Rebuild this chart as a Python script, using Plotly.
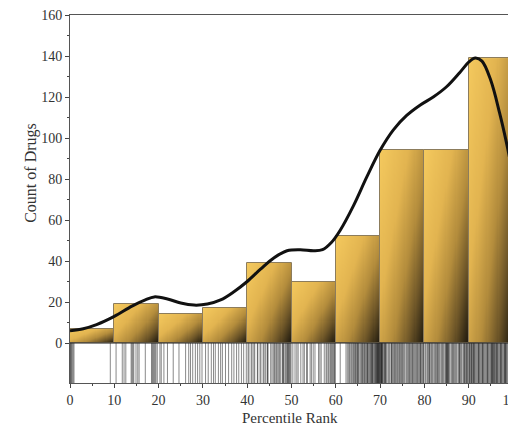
import numpy as np
import plotly.graph_objects as go

# ---------------- data ----------------
bin_left = [0, 10, 20, 30, 40, 50, 60, 70, 80, 90]
bin_width = 10
counts = [7, 19, 14, 17, 39, 30, 52, 94, 94, 139]

curve_x = [0, 3, 6, 10, 14, 17, 19, 22, 25, 28, 31, 34, 37, 40, 43, 46, 49, 52, 55, 57,
           59, 61, 64, 67, 70, 73, 76, 79, 82, 85, 88, 90, 91.5, 93, 95, 97, 98.5, 100]
curve_y = [6, 7, 9, 13, 18, 21, 22.5, 21.5, 19.5, 18.5, 19, 21, 25, 30, 36, 41.5, 45, 45.5, 45, 45.5,
           49, 55, 67, 81, 94, 104, 111, 116, 120, 125, 132, 137, 139, 137.5, 128, 112, 98, 82]

rug_x = [
    0.1, 0.2, 0.3, 0.5, 0.7, 0.9, 9.1,
    10.4, 11.8, 12.2, 12.6, 13.8, 14.0, 14.2, 14.4, 14.9, 15.3, 15.6, 17.0, 18.4, 18.6, 18.8, 19.0, 19.2, 19.4, 19.7,
    20.3, 20.6, 21.2, 22.0, 23.3, 24.6, 26.1, 26.8, 27.2, 27.7, 28.3, 28.8, 29.3, 29.8,
    30.6, 31.2, 31.9, 32.4, 32.8, 33.5, 34.0, 34.4, 35.1, 35.8, 36.5, 37.0, 37.6, 38.1, 38.7, 39.2, 39.8,
    40.2, 40.4, 40.9, 41.1, 41.5, 41.7, 42.3, 42.4, 42.9, 43.1, 43.6, 43.8, 44.1, 44.5, 44.6, 44.7, 45.3,
    45.6, 45.9, 46.2, 46.3, 46.6, 46.8, 47.1, 47.4, 47.4, 47.9, 48.0, 48.2, 48.3, 48.6, 48.8, 49.0, 49.1,
    49.3, 49.4, 49.6, 49.7, 49.9,
    50.3, 50.8, 51.2, 51.5, 52.1, 52.6, 52.9, 53.4, 53.6, 54.2, 54.5, 54.9, 55.3, 56.1, 56.4, 56.7, 57.4,
    57.8, 58.0, 58.3, 58.5, 58.8, 59.0, 59.2, 59.4, 59.6, 59.7, 59.9,
    61.0, 62.3, 62.6, 62.9, 63.1, 63.4, 63.5, 63.8, 64.0, 64.2, 64.4, 64.5, 64.7, 64.9, 65.0, 65.1, 65.3,
    65.6, 65.8, 66.0, 66.1, 66.3, 66.5, 66.6, 66.8, 67.0, 67.1, 67.2, 67.3, 67.5, 67.7, 67.8, 68.0, 68.1,
    68.2, 68.3, 68.4, 68.6, 68.7, 68.9, 69.0, 69.1, 69.2, 69.3, 69.4, 69.5, 69.5, 69.6, 69.7, 69.8, 69.8, 69.9,
    70.1, 70.2, 70.2, 70.3, 70.4, 70.4, 70.5, 70.6, 70.8, 71.0, 71.1, 71.2, 71.3, 71.5, 71.8, 72.0, 72.2,
    72.5, 72.6, 72.7, 72.9, 73.1, 73.3, 73.4, 73.6, 73.8, 74.0, 74.1, 74.4, 74.5, 74.7, 74.9, 75.0, 75.2,
    75.4, 75.6, 75.9, 76.1, 76.3, 76.5, 76.6, 76.8, 77.0, 77.2, 77.3, 77.5, 77.7, 77.9, 78.1, 78.3, 78.4,
    78.6, 78.8, 79.0, 79.1, 79.2, 79.4, 79.6, 79.8, 79.9,
    80.2, 80.4, 80.7, 80.9, 81.1, 81.2, 81.3, 81.6, 81.8, 82.0, 82.3, 82.5, 82.7, 82.9, 83.0, 83.2, 83.4,
    83.7, 83.9, 84.1, 84.3, 84.6, 84.8, 84.9, 85.0, 85.1, 85.2, 85.3, 85.4, 85.5, 85.7, 86.0, 86.2, 86.4,
    86.5, 86.7, 86.9, 87.1, 87.3, 87.6, 87.8, 87.9, 88.0, 88.2, 88.4, 88.7, 88.9, 89.0, 89.1, 89.3, 89.5,
    89.6, 89.7, 89.9,
    90.1, 90.2, 90.3, 90.5, 90.6, 90.7, 90.8, 91.0, 91.1, 91.2, 91.3, 91.5, 91.7, 91.9, 92.1, 92.2, 92.3,
    92.4, 92.6, 92.8, 93.0, 93.1, 93.2, 93.3, 93.5, 93.7, 93.9, 94.1, 94.2, 94.3, 94.4, 94.6, 94.8, 95.0,
    95.1, 95.2, 95.3, 95.4, 95.5, 95.6, 95.8, 95.9, 96.0, 96.2, 96.3, 96.4, 96.5, 96.7, 96.9, 97.1, 97.2,
    97.3, 97.4, 97.6, 97.8, 98.0, 98.1, 98.2, 98.3, 98.4, 98.5, 98.7, 98.9, 99.0, 99.1, 99.2, 99.4, 99.5,
    99.6, 99.8,
]

x_ticks = [0, 10, 20, 30, 40, 50, 60, 70, 80, 90, 100]
y_ticks = [0, 20, 40, 60, 80, 100, 120, 140, 160]
y_minor = [10, 30, 50, 70, 90, 110, 130, 150]

FONT = "Liberation Serif, Times New Roman, serif"
TXT = "#333333"
Y_BOTTOM = -19.5

fig = go.Figure()

# ---- gradient fill of bars (heatmap masked to bars) ----
xe = np.arange(0, 100.001, 0.25)
ye = np.arange(0, max(counts) + 0.001, 0.5)
xc = (xe[:-1] + xe[1:]) / 2
yc = (ye[:-1] + ye[1:]) / 2
Z = np.full((len(yc), len(xc)), np.nan)
for a, h in zip(bin_left, counts):
    cols = (xc >= a) & (xc < a + bin_width)
    rows = yc < h
    u = (xc[cols] - a) / bin_width
    v = yc[rows] / h
    t = 0.55 * u[None, :] + 0.45 * (1 - v[:, None])
    Z[np.ix_(rows, cols)] = t
fig.add_trace(go.Heatmap(
    x=xe, y=ye, z=Z, zmin=0, zmax=1, showscale=False, hoverinfo="skip", zsmooth=False,
    colorscale=[[0, "#f4c95e"], [0.35, "#e2b450"], [0.6, "#b38c3c"],
                [0.8, "#6e5628"], [0.92, "#3c3018"], [1, "#1e180e"]],
))

# ---- bar outlines ----
fig.add_trace(go.Bar(
    x=[a + bin_width / 2 for a in bin_left], y=counts, width=bin_width,
    marker=dict(color="rgba(0,0,0,0)", line=dict(color="#8c7c5c", width=1)),
    hoverinfo="skip", showlegend=False,
))

# ---- density curve ----
fig.add_trace(go.Scatter(
    x=curve_x, y=curve_y, mode="lines", line=dict(color="#111111", width=3, shape="spline", smoothing=1.0),
    hoverinfo="skip", showlegend=False,
))

# ---- rug ----
shapes = []
for r in rug_x:
    shapes.append(dict(type="line", xref="x", yref="y", x0=r, x1=r, y0=0, y1=Y_BOTTOM,
                       line=dict(color="rgba(20,20,20,0.5)", width=1), layer="above"))
# baseline
shapes.append(dict(type="line", xref="x", yref="y", x0=0, x1=100, y0=0, y1=0,
                   line=dict(color="#222222", width=1.2)))

# the page adds an 8px body margin, so the figure is 8px smaller than the window
fig.update_layout(
    template="none",
    width=508, height=418,
    margin=dict(l=62, r=3, t=7, b=43),
    paper_bgcolor="white", plot_bgcolor="white",
    showlegend=False, bargap=0,
    font=dict(family=FONT, size=14, color=TXT),
    shapes=shapes,
    annotations=[
        dict(text="Count of Drugs", xref="paper", yref="y", x=-0.113, y=83, textangle=-90,
             showarrow=False, font=dict(family=FONT, size=16, color=TXT)),
        dict(text="Percentile Rank", xref="paper", yref="paper", x=0.497, y=-0.096,
             xanchor="center", yanchor="middle",
             showarrow=False, font=dict(family=FONT, size=15, color=TXT)),
    ],
)
fig.update_xaxes(
    range=[0, 100], tickvals=x_ticks, ticks="outside", ticklen=4, tickcolor="#444",
    tickfont=dict(family=FONT, size=14, color=TXT), ticklabeloverflow="allow",
    showline=True, linecolor="#555555", linewidth=1, mirror=True, showgrid=False, zeroline=False,
    minor=dict(dtick=5, ticks="outside", ticklen=2, tickcolor="#444", showgrid=False),
)
fig.update_yaxes(
    range=[Y_BOTTOM, 160], tickvals=y_ticks, ticks="outside", ticklen=4, tickcolor="#444",
    tickfont=dict(family=FONT, size=14, color=TXT), ticklabeloverflow="allow",
    showline=True, linecolor="#555555", linewidth=1, mirror=True, showgrid=False, zeroline=False,
    minor=dict(tickvals=y_minor, ticks="outside", ticklen=2, tickcolor="#444", showgrid=False),
)

fig.write_html("out.html")
